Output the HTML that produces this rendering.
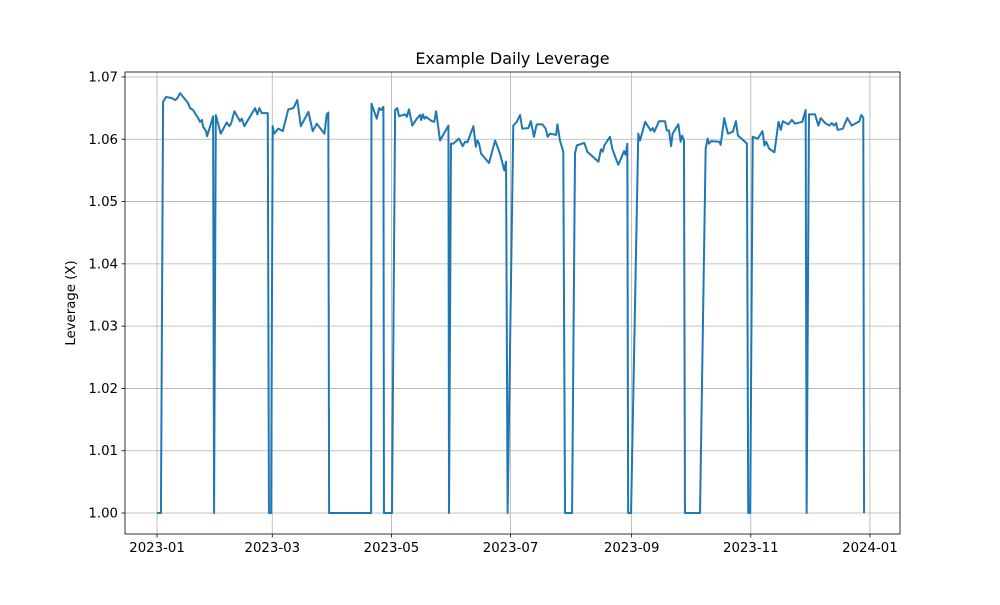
<!DOCTYPE html>
<html><head><meta charset="utf-8"><style>
body{margin:0;background:#fff;font-family:"Liberation Sans","DejaVu Sans",sans-serif;}
svg text{font-family:"DejaVu Sans","Liberation Sans",sans-serif;}
</style></head><body>
<svg id="chart" width="1000" height="600" xmlns="http://www.w3.org/2000/svg">
<rect width="1000" height="600" fill="#fff"/>
<g id="grid"></g>
<g id="ticks"></g>
<path id="line" fill="none" stroke="#1f77b4" stroke-width="2" stroke-linejoin="round"/>
<rect x="125" y="72" width="775" height="462" fill="none" stroke="#000" stroke-width="0.8"/>
<text x="512.5" y="64" font-size="16" text-anchor="middle">Example Daily Leverage</text>
<text transform="translate(75,303) rotate(-90)" font-size="13.3" text-anchor="middle">Leverage (X)</text>
</svg>
<script>
const days=[
0,2,3.1,4.6,7.7,9.2,10.2,11.8,15.9,16.9,18.4,21.0,22.0,23.0,23.6,25.1,25.6,28.2,28.7,29.2,
30.1,32.6,35.7,37.0,37.9,39.6,42.5,43.4,44.7,50.2,51.4,52.4,53.6,56.7,57.3,58.4,
59.2,59.9,62.1,64.4,67.2,69.8,71.8,73.6,77.5,79.7,81.8,85.7,86.9,87.7,88.1,109.6,
109.8,112.5,113.7,114.7,115.9,116.2,120.3,
121.9,123.0,123.9,127.0,127.9,129.0,130.7,133.0,134.7,135.2,136.1,136.9,137.7,140.7,141.9,142.9,144.9,149.2,149.5,
150.5,151.7,154.6,156.5,157.7,158.9,162.0,163.2,164.0,164.9,165.9,170.0,173.1,175.6,177.8,178.7,179.5,
182.4,184.2,185.9,187.0,190.1,191.4,193.0,194.4,197.3,199.0,200.0,201.2,204.3,205.0,206.3,208.0,208.9,212.5,
214.0,214.9,217.5,218.8,220.3,226.0,227.3,228.2,229.0,231.9,233.1,234.8,236.2,239.1,239.9,240.8,241.2,242.7,
246.4,247.3,249.9,252.8,253.8,254.6,257.0,260.1,261.0,262.1,263.2,264.0,266.9,268.1,268.9,269.8,270.3,278.0,
280.9,281.9,282.6,283.7,287.9,288.6,290.4,292.3,294.8,296.4,297.4,300.3,302.0,302.7,303.7,
305.0,307.6,310.0,311.0,311.9,313.4,316.1,318.2,319.4,320.4,323.3,325.0,326.7,330.4,332.1,332.6,
333.8,336.9,338.6,339.8,342.1,344.3,345.5,346.7,347.7,348.5,351.1,353.4,355.7,359.6,360.5,361.6,362.0];
const leverage=[
1.0,1.0,1.0660,1.0668,1.0666,1.0663,1.0665,1.0674,1.0658,1.0650,1.0647,1.0634,1.0628,1.0631,1.0620,1.0613,1.0605,1.0631,1.0637,1.0,
1.0639,1.0609,1.0627,1.0621,1.0625,1.0645,1.0629,1.0633,1.0621,1.0650,1.0640,1.0650,1.0642,1.0642,1.0,1.0,
1.0621,1.0609,1.0617,1.0613,1.0648,1.0650,1.0663,1.0621,1.0644,1.0613,1.0625,1.0609,1.0640,1.0643,1.0,1.0,
1.0657,1.0633,1.0650,1.0647,1.0652,1.0,1.0,
1.0647,1.0650,1.0637,1.0640,1.0636,1.0648,1.0622,1.0633,1.0639,1.0631,1.0640,1.0633,1.0636,1.0629,1.0628,1.0645,1.0598,1.0622,1.0,
1.0593,1.0593,1.0601,1.0589,1.0596,1.0595,1.0621,1.0588,1.0598,1.0593,1.0577,1.0562,1.0598,1.0577,1.0550,1.0564,1.0,
1.0622,1.0628,1.0639,1.0617,1.0618,1.0629,1.0604,1.0624,1.0624,1.0617,1.0604,1.0609,1.0607,1.0624,1.0598,1.0580,1.0,1.0,
1.0577,1.0590,1.0593,1.0594,1.0580,1.0564,1.0584,1.0580,1.0590,1.0604,1.0585,1.0570,1.0559,1.0581,1.0575,1.0593,1.0,1.0,
1.0609,1.0598,1.0628,1.0614,1.0618,1.0612,1.0629,1.0629,1.0614,1.0614,1.0589,1.0609,1.0624,1.0596,1.0606,1.0598,1.0,1.0,
1.0585,1.0601,1.0593,1.0597,1.0596,1.0591,1.0634,1.0609,1.0612,1.0629,1.0606,1.0598,1.0593,1.0,1.0,
1.0604,1.0601,1.0613,1.0590,1.0596,1.0585,1.0579,1.0628,1.0615,1.0629,1.0624,1.0631,1.0625,1.0628,1.0647,1.0,
1.0640,1.0640,1.0622,1.0634,1.0626,1.0622,1.0626,1.0622,1.0626,1.0615,1.0617,1.0634,1.0622,1.0629,1.0639,1.0635,1.0];
const xTickDays=[0,59,120,181,243,304,365];
const xTickLabels=["2023-01","2023-03","2023-05","2023-07","2023-09","2023-11","2024-01"];
const yTicks=[1.00,1.01,1.02,1.03,1.04,1.05,1.06,1.07];

const L=125,R=900,T=72,B=534;
const xMin=-16.4,xMax=380.4,yMin=0.99663,yMax=1.0708;
const sx=d=>L+(d-xMin)/(xMax-xMin)*(R-L);
const sy=v=>B-(v-yMin)/(yMax-yMin)*(B-T);
const NS="http://www.w3.org/2000/svg";
const grid=document.getElementById('grid'),ticks=document.getElementById('ticks');
function mk(tag,attrs,parent){const e=document.createElementNS(NS,tag);for(const k in attrs)e.setAttribute(k,attrs[k]);parent.appendChild(e);return e;}
xTickDays.forEach((d,i)=>{
  const x=sx(d);
  const g=mk('line',{x1:x,x2:x,y1:T,y2:B,stroke:'#b0b0b0','stroke-width':0.8},grid);
  
  
  const t=mk('line',{x1:x,x2:x,y1:B,y2:B+3.5,stroke:'#000','stroke-width':0.8},ticks);
  
  
  const l=mk('text',{x:x,y:B+18,'font-size':13.3,'text-anchor':'middle'},ticks);
  l.textContent=xTickLabels[i];
  
  
});
yTicks.forEach(v=>{
  const y=sy(v);
  const g=mk('line',{x1:L,x2:R,y1:y,y2:y,stroke:'#b0b0b0','stroke-width':0.8},grid);
  
  
  const t=mk('line',{x1:L-3.5,x2:L,y1:y,y2:y,stroke:'#000','stroke-width':0.8},ticks);
  
  
  const l=mk('text',{x:L-7,y:y+4.5,'font-size':13.3,'text-anchor':'end'},ticks);
  l.textContent=v.toFixed(2);
  
  
});
const n=Math.min(days.length,leverage.length);
let d='';
for(let i=0;i<n;i++){d+=(i?'L':'M')+sx(days[i]).toFixed(2)+','+sy(leverage[i]).toFixed(2);}
document.getElementById('line').setAttribute('d',d);
</script>
</body></html>
